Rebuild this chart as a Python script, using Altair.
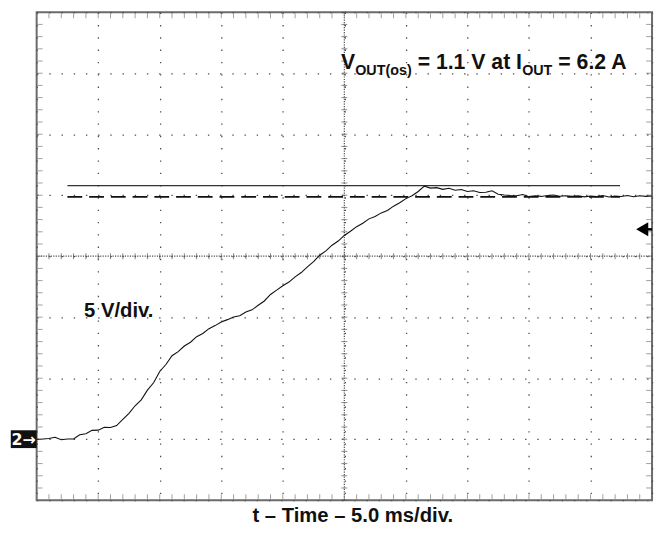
import altair as alt
import pandas as pd

# ---- data ----
time_ms = [0.0, 0.5, 1.0, 1.5, 2.0, 2.5, 3.0, 3.5, 4.0, 4.5,
           5.0, 5.5, 6.0, 6.5, 7.0, 7.5, 8.0, 8.5, 9.0, 9.5,
           10.0, 10.5, 11.0, 11.5, 12.0, 12.5, 13.0, 13.5, 14.0, 14.5,
           15.0, 15.5, 16.0, 16.5, 17.0, 17.5, 18.0, 18.5, 19.0, 19.5,
           20.0, 20.5, 21.0, 21.5, 22.0, 22.5, 23.0, 23.5, 24.0, 24.5,
           25.0, 25.5, 26.0, 26.5, 27.0, 27.5, 28.0, 28.5, 29.0, 29.5,
           30.0, 30.5, 31.0, 31.5, 32.0, 32.5, 33.0, 33.5, 34.0, 34.5,
           35.0, 35.5, 36.0, 36.5, 37.0, 37.5, 38.0, 38.5, 39.0, 39.5,
           40.0, 40.5, 41.0, 41.5, 42.0, 42.5, 43.0, 43.5, 44.0, 44.5,
           45.0, 45.5, 46.0, 46.5, 47.0, 47.5, 48.0, 48.5, 49.0, 49.5, 50.0]
vout_v = [0.00, 0.02, 0.06, 0.16, -0.05, 0.01, 0.02, 0.36, 0.44, 0.72,
          0.74, 0.98, 0.96, 1.12, 1.62, 2.12, 2.74, 3.22, 4.02, 4.62,
          5.55, 6.12, 6.84, 7.18, 7.64, 7.95, 8.40, 8.66, 9.06, 9.31,
          9.60, 9.80, 10.02, 10.12, 10.42, 10.60, 10.98, 11.33, 11.86, 12.22,
          12.58, 12.88, 13.30, 13.66, 14.12, 14.55, 15.08, 15.44, 15.90, 16.24,
          16.70, 17.04, 17.42, 17.70, 18.06, 18.25, 18.55, 18.74, 19.10, 19.38,
          19.72, 19.95, 20.30, 20.74, 20.58, 20.62, 20.48, 20.57, 20.40, 20.46,
          20.30, 20.37, 20.22, 20.24, 20.36, 20.08, 20.02, 19.98, 19.96, 20.06,
          19.88, 19.95, 19.90, 19.97, 20.02, 19.92, 19.95, 19.90, 19.96, 19.86,
          19.94, 19.88, 19.97, 19.85, 19.93, 19.89, 19.98, 19.87, 19.95, 19.90, 19.94]

ref_names = ["peak", "steady"]
ref_volts = [20.79, 19.86]
ref_start_ms = [2.5, 2.5]
ref_end_ms = [47.4, 47.4]

trigger_t = [49.2]
trigger_v = [17.2]
ground_label = ["2→"]

x_domain = [0, 50]       # 10 div x 5 ms/div
y_domain = [-5, 35]      # 8 div x 5 V/div, ground one div above bottom
x_major = [0, 5, 10, 15, 20, 25, 30, 35, 40, 45, 50]
y_major = [-5, 0, 5, 10, 15, 20, 25, 30, 35]
x_minor = list(range(0, 51))
y_minor = list(range(-5, 36))
center_t = 25
center_v = 15

W, H = 623, 494
FONT = "Liberation Sans"

xs = alt.Scale(domain=x_domain, nice=False, zero=False)
ys = alt.Scale(domain=y_domain, nice=False, zero=False)

x_axis = alt.Axis(values=x_major, grid=True, labels=False, ticks=False, domain=False,
                  title=None, gridColor="#4d4d4d", gridDash=[1.4, 11.06], gridWidth=1.3)
y_axis = alt.Axis(values=y_major, grid=True, labels=False, ticks=False, domain=False,
                  title=None, gridColor="#4d4d4d", gridDash=[1.4, 10.95], gridWidth=1.3)


def X(field):
    return alt.X(field, type="quantitative", scale=xs, axis=x_axis)


def Y(field):
    return alt.Y(field, type="quantitative", scale=ys, axis=y_axis)


trace_df = pd.DataFrame({"t": time_ms, "v": vout_v})
ref_df = pd.DataFrame({"name": ref_names, "v": ref_volts, "t1": ref_start_ms, "t2": ref_end_ms})
xminor_df = pd.DataFrame({"t": x_minor, "v": [center_v] * len(x_minor)})
yminor_df = pd.DataFrame({"v": y_minor, "t": [center_t] * len(y_minor)})
center_df = pd.DataFrame({"t": [center_t], "v": [center_v]})
trig_df = pd.DataFrame({"t": trigger_t, "v": trigger_v, "t2": [x_domain[1]]})
gnd_df = pd.DataFrame({"t": [-2.1], "t2": [0.0], "v": [-0.73], "v2": [0.73],
                       "tm": [-1.05], "vm": [0.0], "label": ground_label})

# centre crosshair (dense dots + ticks)
center_v_rule = alt.Chart(center_df).mark_rule(color="#4d4d4d", strokeWidth=1.2, strokeDash=[1.2, 1.3]).encode(x=X("t"))
center_h_rule = alt.Chart(center_df).mark_rule(color="#4d4d4d", strokeWidth=1.2, strokeDash=[1.2, 1.3]).encode(y=Y("v"))
center_x_ticks = alt.Chart(xminor_df).mark_tick(orient="vertical", size=6, thickness=1, color="#555").encode(x=X("t"), y=Y("v"))
center_y_ticks = alt.Chart(yminor_df).mark_tick(orient="horizontal", size=6, thickness=1, color="#555").encode(x=X("t"), y=Y("v"))

# minor ticks along frame edges
top_ticks = alt.Chart(xminor_df).mark_tick(orient="vertical", size=5, thickness=1, color="#777").encode(x=X("t"), y=alt.value(3.5))
bot_ticks = alt.Chart(xminor_df).mark_tick(orient="vertical", size=5, thickness=1, color="#777").encode(x=X("t"), y=alt.value(H - 3.5))
left_ticks = alt.Chart(yminor_df).mark_tick(orient="horizontal", size=5, thickness=1, color="#777").encode(y=Y("v"), x=alt.value(3.5))
right_ticks = alt.Chart(yminor_df).mark_tick(orient="horizontal", size=5, thickness=1, color="#777").encode(y=Y("v"), x=alt.value(W - 3.5))

# reference lines
peak_line = alt.Chart(ref_df).transform_filter(alt.datum.name == "peak").mark_rule(
    color="#333", strokeWidth=1.3).encode(x=X("t1"), x2="t2", y=Y("v"))
steady_line = alt.Chart(ref_df).transform_filter(alt.datum.name == "steady").mark_rule(
    color="#111", strokeWidth=1.6, strokeDash=[15, 7]).encode(x=X("t1"), x2="t2", y=Y("v"))

# waveform
trace = alt.Chart(trace_df).mark_line(color="#111", strokeWidth=1.1).encode(x=X("t"), y=Y("v"))

# trigger marker on right edge
trig_stem = alt.Chart(trig_df).mark_rule(color="black", strokeWidth=2.5).encode(x=X("t"), x2="t2", y=Y("v"))
trig_head = alt.Chart(trig_df).mark_point(shape="triangle-left", filled=True, size=200, color="black",
                                          opacity=1, strokeWidth=0).encode(x=X("t"), y=Y("v"))

# ground marker "2→"
gnd_box = alt.Chart(gnd_df).mark_rect(color="#111").encode(x=X("t"), x2="t2", y=Y("v"), y2="v2")
gnd_txt = alt.Chart(gnd_df).mark_text(color="white", font="DejaVu Sans", fontWeight="bold", fontSize=16,
                                      align="center", baseline="middle", dy=0.5).encode(x=X("tm"), y=Y("vm"), text="label")


# annotations (plot-pixel positions)
def label(txt, x, y, size, align="left"):
    return alt.Chart(center_df).mark_text(text=txt, font=FONT, fontWeight="bold", fontSize=size,
                                          align=align, baseline="alphabetic", color="#111").encode(
        x=alt.value(x), y=alt.value(y))


ann = [
    label("V", 308, 57, 21.5),
    label("OUT(os)", 322.5, 63.5, 14.5),
    label("= 1.1 V at I", 385.7, 57, 21.5),
    label("OUT", 491.5, 63.5, 14.5),
    label("= 6.2 A", 528.1, 57, 21.5),
    label("5 V/div.", 48, 309, 20.5),
    label("t – Time – 5.0 ms/div.", 320, 516, 20.5, align="center"),
]

chart = alt.layer(
    center_v_rule, center_h_rule, center_x_ticks, center_y_ticks,
    top_ticks, bot_ticks, left_ticks, right_ticks,
    peak_line, steady_line, trace, trig_stem, trig_head, gnd_box, gnd_txt, *ann
).properties(
    width=W, height=H,
    autosize=alt.AutoSizeParams(type="none"),
    padding={"left": 29, "top": 1, "right": 3, "bottom": 32},
    background="white",
).configure_view(stroke="#6b6b6b", strokeWidth=2)

chart.save("out.html", embed_options={"renderer": "svg", "actions": False})
